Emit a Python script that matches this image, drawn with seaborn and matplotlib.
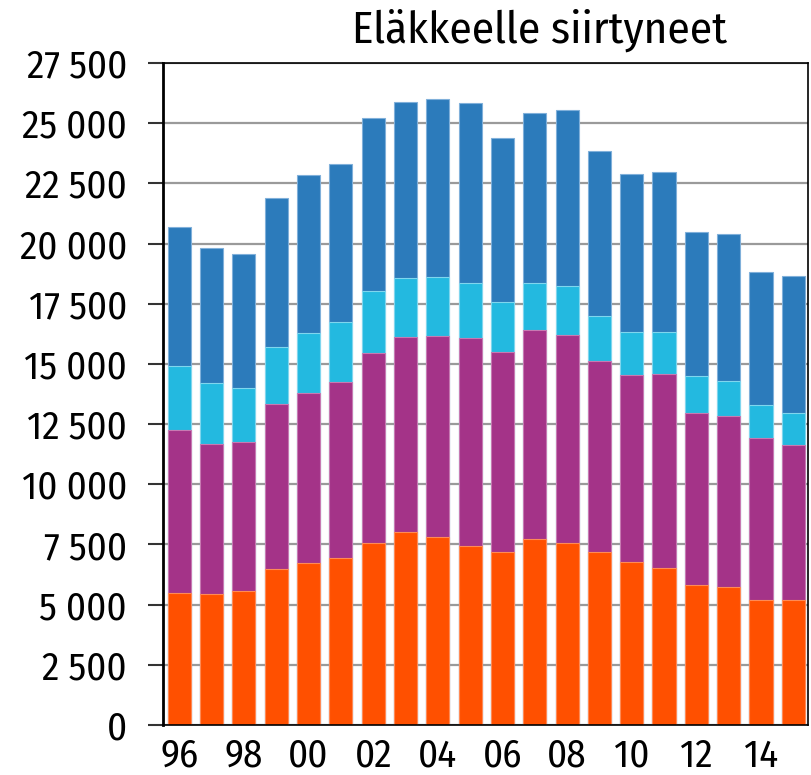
import matplotlib
matplotlib.use("Agg")
import matplotlib.pyplot as plt
import seaborn as sns
import numpy as np
import pandas as pd
from matplotlib.ticker import FixedLocator, FuncFormatter

years = list(range(1996, 2016))
year_labels = [f"{y % 100:02d}" for y in years]

seg_orange = [5480, 5460, 5580, 6500, 6750, 6950, 7580, 8030, 7790, 7450,
              7200, 7720, 7580, 7170, 6780, 6510, 5800, 5740, 5210, 5210]
seg_purple = [6780, 6220, 6180, 6820, 7050, 7300, 7880, 8100, 8390, 8610,
              8310, 8680, 8640, 7970, 7780, 8060, 7160, 7110, 6700, 6440]
seg_cyan = [2640, 2510, 2240, 2400, 2470, 2480, 2550, 2450, 2430, 2300,
            2050, 1960, 2000, 1840, 1750, 1740, 1520, 1430, 1370, 1310]
seg_blue = [5780, 5640, 5580, 6160, 6560, 6590, 7200, 7290, 7390, 7480,
            6840, 7080, 7330, 6870, 6580, 6670, 5980, 6100, 5540, 5690]

layer_colors = ["#FF5000", "#A43388", "#23B9E0", "#2C7BBB"]
edge_colors = ["#FF8A55", "#C77AB2", "#7FD6EE", "#80B0DA"]

title = "Eläkkeelle siirtyneet"
y_ticks = list(range(0, 27501, 2500))

sns.set_theme(style="white")
plt.rcParams['font.family'] = ['Fira Sans Condensed', 'DejaVu Sans']

fig = plt.figure(figsize=(8.11, 7.75), dpi=100)
ax = fig.add_axes([0.201, 0.0645, 0.7953, 0.8542])

layers = [seg_orange, seg_purple, seg_cyan, seg_blue]
cum = np.cumsum(np.array(layers), axis=0)

for i in reversed(range(len(layers))):
    df = pd.DataFrame({"year": year_labels, "value": cum[i]})
    sns.barplot(data=df, x="year", y="value", color=layer_colors[i],
                saturation=1, width=0.72, ax=ax,
                edgecolor=edge_colors[i], linewidth=0.8, zorder=2)

ax.set_xlim(-0.5, 19.45)
ax.set_ylim(0, 27500)
ax.yaxis.set_major_locator(FixedLocator(y_ticks))
ax.yaxis.set_major_formatter(FuncFormatter(lambda v, p: f"{int(v):,}".replace(",", " ")))
ax.set_xticks(range(len(years)))
ax.set_xticklabels([lab if i % 2 == 0 else "" for i, lab in enumerate(year_labels)])
ax.set_xlabel("")
ax.set_ylabel("")

ax.set_axisbelow(True)
ax.grid(axis="y", color="#9A9A9A", linewidth=1.6)
ax.grid(axis="x", visible=False)

for s in ax.spines.values():
    s.set_visible(True)
    s.set_color("black")
    s.set_linewidth(1.2)
ax.spines["left"].set_linewidth(2.0)

ax.tick_params(axis="y", which="major", length=11, width=1.5, color="#333333",
               labelsize=28, pad=15, left=True, labelcolor="black")
ax.tick_params(axis="x", which="major", length=0, labelsize=28, pad=9,
               labelcolor="black")

fig.text(0.665, 0.9445, title, ha="center", va="baseline", fontsize=32.5, color="black")

fig.savefig("out.png", dpi=100)
